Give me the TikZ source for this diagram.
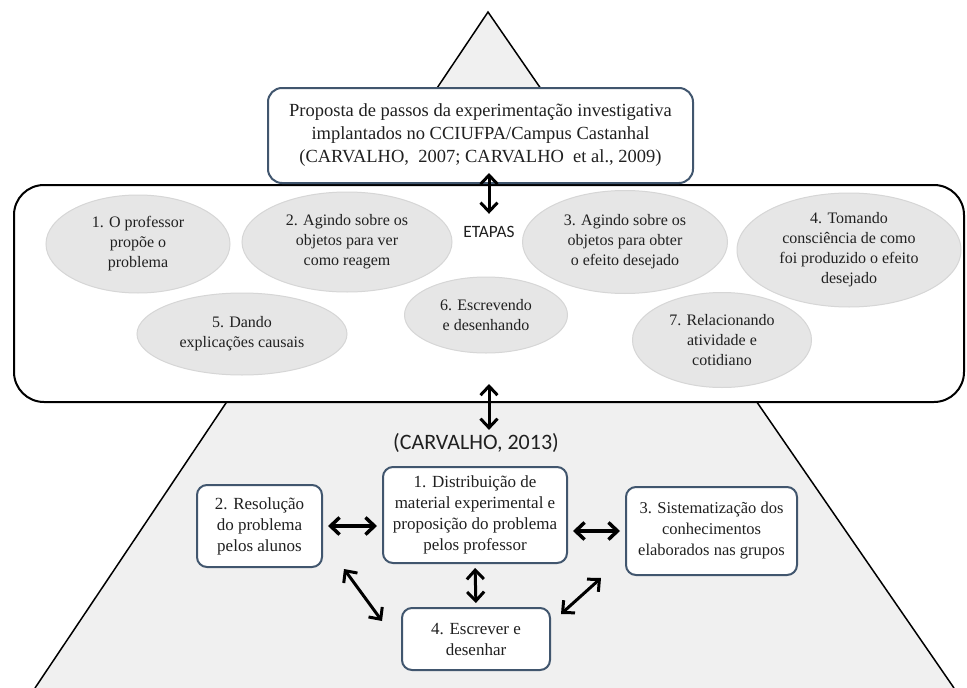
\documentclass[tikz,border=0pt]{standalone}
\usepackage{fontspec}
\setmainfont{Liberation Serif}
\newfontfamily\calibri{Carlito}
\usetikzlibrary{shapes.geometric,arrows.meta,calc}
\definecolor{borda}{HTML}{41566E}
\definecolor{cinza}{HTML}{E6E6E6}
\definecolor{cinzaborda}{HTML}{D6D6D6}
\definecolor{fundo}{HTML}{F0F0F0}
\definecolor{texto}{HTML}{202020}
\begin{document}
\begin{tikzpicture}[x=1pt, y=-1pt,
		etapa/.style={ellipse, fill=cinza, draw=cinzaborda, line width=1pt, inner sep=0pt, align=center, text=texto, font=\fontsize{16}{20}\selectfont},
		passo/.style={rectangle, rounded corners=10pt, draw=borda, line width=2pt, fill=white, inner sep=0pt, align=center, text=texto, font=\fontsize{17}{21}\selectfont},
		rotulo/.style={text=texto, font=\calibri\fontsize{17.3}{20}\selectfont},
		seta/.style={{Straight Barb[length=9pt,width=17pt]}-{Straight Barb[length=9pt,width=17pt]}, line width=3.5pt, shorten <=5pt, shorten >=5pt},
		seta fina/.style={seta, line width=3pt, shorten <=0pt, shorten >=0pt}
		]
	\useasboundingbox (0,0) rectangle (967,688);
	\fill[fundo] (35,688) -- (488,12) -- (954,688) -- cycle;
	\draw[line width=1.5pt] (35,688) -- (488,12) -- (954,688);
	\node [draw, line width=2pt, rounded corners=30pt, fill=white, minimum width=950pt, minimum height=217pt] (quadro) at (489,293.5) {};
	\node [passo, rounded corners=14pt, minimum width=425pt, minimum height=95pt, font=\fontsize{18.5}{23}\selectfont] (topo) at (480.5,135.5) {Proposta de passos da experimentação investigativa\\implantados no CCIUFPA/Campus Castanhal\\(CARVALHO,\ \ 2007; CARVALHO\ \ et al., 2009)};
	\node [etapa, minimum width=184pt, minimum height=98pt] (e1) at (138,244) {1. O professor\\propõe o\\problema};
	\node [etapa, minimum width=210pt, minimum height=100pt] (e2) at (347,242) {2. Agindo sobre os\\objetos para ver\\como reagem};
	\node [etapa, minimum width=205pt, minimum height=103pt] (e3) at (625,242) {3. Agindo sobre os\\objetos para obter\\o efeito desejado};
	\node [etapa, minimum width=224pt, minimum height=114pt] (e4) at (849,250) {4. Tomando\\consciência de como\\foi produzido o efeito\\desejado};
	\node [etapa, minimum width=210pt, minimum height=82pt] (e5) at (242,334) {5. Dando\\explicações causais};
	\node [etapa, minimum width=163pt, minimum height=76pt] (e6) at (486,315) {6. Escrevendo\\e desenhando};
	\node [etapa, minimum width=179pt, minimum height=95pt] (e7) at (722,340) {7. Relacionando\\atividade e\\cotidiano};
	\node [rotulo] (etapas) at (489,232) {ETAPAS};
	\node [rotulo, font=\calibri\fontsize{22}{26}\selectfont] (ref) at (476,443) {(CARVALHO, 2013)};
	\node [passo, minimum width=184pt, minimum height=96pt] (p1) at (475,515) {1. Distribuição de\\material experimental e\\proposição do problema\\pelos professor};
	\node [passo, minimum width=125pt, minimum height=82pt] (p2) at (259.5,526) {2. Resolução\\do problema\\pelos alunos};
	\node [passo, minimum width=171pt, minimum height=88pt, font=\fontsize{16.5}{21}\selectfont] (p3) at (711.5,531) {3. Sistematização dos\\conhecimentos\\elaborados nas grupos};
	\node [passo, minimum width=148pt, minimum height=62pt] (p4) at (476,639) {4. Escrever e\\desenhar};
	\draw [seta fina] ($(topo.south -| etapas.north)+(0,-11)$) -- ($(etapas.north)+(0,-9)$);
	\draw [seta fina] ($(quadro.south -| etapas.south)+(0,-19)$) -- (etapas.south |- ref.north);
	\draw [seta] (p2.east) -- (p2.east -| p1.west);
	\draw [seta] (p3.west -| p1.east) -- (p3.west);
	\draw [seta fina, shorten <=4pt, shorten >=4pt] (p1.south) -- (p4.north);
	\draw [seta fina] ($(p2.south east)+(21,1)$) -- ($(p4.north west)+(-19,14)$);
	\draw [seta fina] ($(p3.south west)+(-24,2)$) -- ($(p4.north east)+(10,7)$);
\end{tikzpicture}
\end{document}
